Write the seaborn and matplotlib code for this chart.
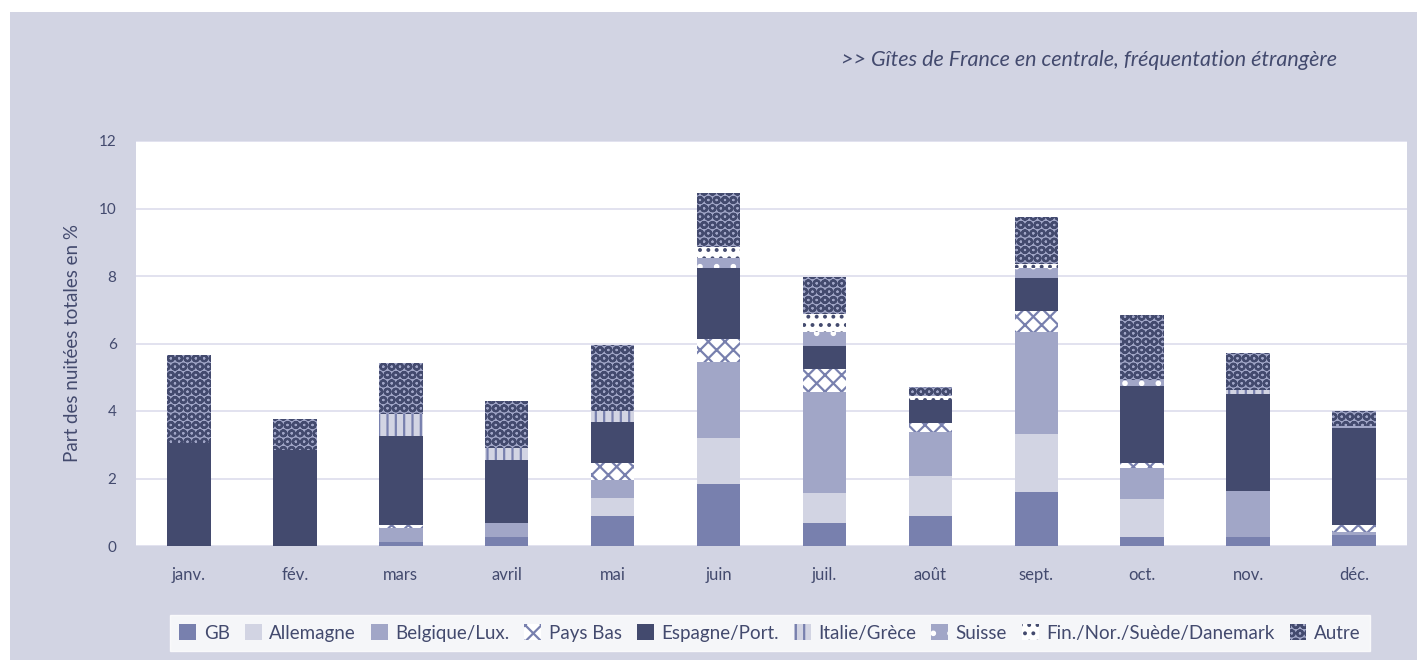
import numpy as np
import pandas as pd
import matplotlib
matplotlib.use("Agg")
import matplotlib.pyplot as plt
import seaborn as sns
from matplotlib.patches import Patch, Rectangle

# ========== Data ==========
months = ["janv.", "fév.", "mars", "avril", "mai", "juin",
          "juil.", "août", "sept.", "oct.", "nov.", "déc."]
countries = ["GB", "Allemagne", "Belgique/Lux.", "Pays Bas", "Espagne/Port.",
             "Italie/Grèce", "Suisse", "Fin./Nor./Suède/Danemark", "Autre"]

gb        = [0.00, 0.00, 0.13, 0.26, 0.89, 1.84, 0.67, 0.90, 1.61, 0.26, 0.26, 0.33]
allemagne = [0.00, 0.00, 0.00, 0.00, 0.53, 1.37, 0.89, 1.17, 1.71, 1.12, 0.00, 0.00]
belgique  = [0.00, 0.00, 0.39, 0.43, 0.54, 2.25, 3.00, 1.32, 3.03, 0.94, 1.38, 0.09]
pays_bas  = [0.00, 0.00, 0.10, 0.00, 0.51, 0.67, 0.68, 0.26, 0.61, 0.13, 0.00, 0.20]
espagne   = [3.05, 2.84, 2.64, 1.86, 1.21, 2.11, 0.70, 0.68, 0.99, 2.29, 2.86, 2.89]
italie    = [0.00, 0.00, 0.65, 0.36, 0.33, 0.00, 0.00, 0.00, 0.00, 0.00, 0.12, 0.00]
suisse    = [0.00, 0.00, 0.00, 0.00, 0.00, 0.28, 0.41, 0.00, 0.28, 0.18, 0.00, 0.06]
nordiques = [0.00, 0.00, 0.00, 0.00, 0.00, 0.35, 0.51, 0.11, 0.12, 0.00, 0.00, 0.00]
autre     = [2.61, 0.92, 1.50, 1.39, 1.95, 1.58, 1.10, 0.26, 1.41, 1.92, 1.09, 0.43]

values = [gb, allemagne, belgique, pays_bas, espagne, italie, suisse, nordiques, autre]

# ========== Styles ==========
navy = "#434A6E"
mid = "#7880AE"
light = "#D2D4E3"
belg = "#A1A6C7"
lavender = "#D2D4E3"
# (facecolor, hatch colour, hatch)
styles = {
    "GB": (mid, mid, None),
    "Allemagne": (light, light, None),
    "Belgique/Lux.": (belg, belg, None),
    "Pays Bas": ("white", mid, "xx"),
    "Espagne/Port.": (navy, navy, None),
    "Italie/Grèce": (light, mid, "||"),
    "Suisse": (belg, "white", "."),
    "Fin./Nor./Suède/Danemark": ("white", navy, ".."),
    "Autre": (belg, navy, "OO"),
}

plt.rcParams["font.family"] = ["Lato", "DejaVu Sans"]
plt.rcParams["hatch.linewidth"] = 1.6

df = pd.DataFrame({"Mois": months})
for c, v in zip(countries, values):
    df[c] = v
cum = df[countries].cumsum(axis=1)

fig = plt.figure(figsize=(14.17, 6.6), dpi=100, facecolor="white")
fig.patches.append(Rectangle((10 / 1417, 0), 1, 1 - 12 / 660, transform=fig.transFigure,
                             facecolor=lavender, edgecolor="none", zorder=-10))
ax = fig.add_axes([136 / 1417, 1 - 546 / 660, (1407 - 136) / 1417, (546 - 141) / 660])
ax.set_facecolor("white")

# draw cumulative totals from the top layer down so lower layers sit on top
for c in countries[::-1]:
    fc, hc, hatch = styles[c]
    plot_df = pd.DataFrame({"Mois": months, "val": cum[c].values})
    sns.barplot(data=plot_df, x="Mois", y="val", order=months, color=fc,
                saturation=1, width=0.41, edgecolor=hc, linewidth=0,
                hatch=hatch, errorbar=None, ax=ax, zorder=2)

ax.set_ylim(0, 12)
ax.set_xlim(-0.5, 11.5)
ax.set_yticks(range(0, 13, 2))
ax.yaxis.grid(True, color="#DDDDEC", linewidth=1.2, zorder=0)
ax.set_axisbelow(True)
for s in ax.spines.values():
    s.set_visible(False)
ax.tick_params(axis="both", length=0, colors=navy)
ax.tick_params(axis="y", labelsize=11, pad=14)
ax.tick_params(axis="x", labelsize=12, pad=15)
ax.set_xlabel("")
ax.set_ylabel("Part des nuitées totales en %", fontsize=13.5, color=navy, labelpad=13)

fig.text(1337 / 1417, 1 - 60 / 660, ">> Gîtes de France en centrale, fréquentation étrangère",
         ha="right", va="center", fontsize=15.5, style="italic", color=navy)

handles = []
for c in countries:
    fc, hc, hatch = styles[c]
    handles.append(Patch(facecolor=fc, edgecolor=hc, hatch=hatch, linewidth=0))
leg = fig.legend(handles, countries, loc="center", bbox_to_anchor=(770 / 1417, 1 - 633 / 660),
                 ncol=9, frameon=True, fontsize=13.5, handlelength=0.9, handleheight=0.9,
                 handletextpad=0.4, columnspacing=0.8, labelcolor=navy,
                 borderpad=0.5, fancybox=False)
leg.get_frame().set_facecolor("white")
leg.get_frame().set_edgecolor("white")

fig.savefig("out.png", dpi=100, facecolor="white")
